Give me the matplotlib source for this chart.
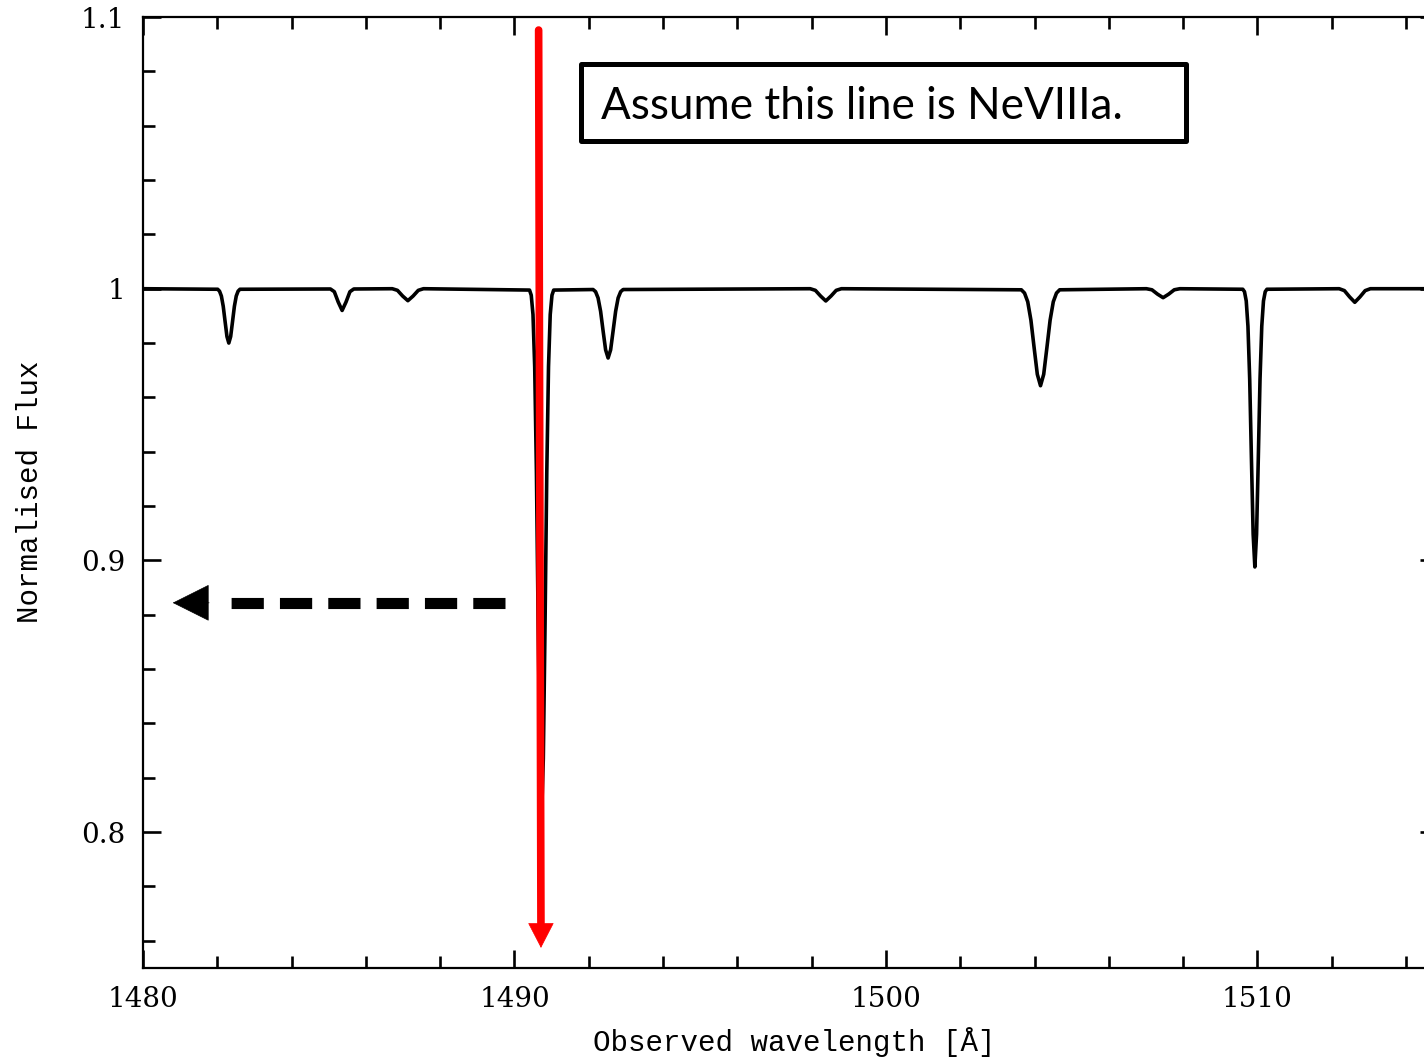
import numpy as np
import matplotlib.pyplot as plt
from matplotlib.patches import Rectangle
from matplotlib.ticker import MultipleLocator, FixedLocator, FixedFormatter

# spectrum: continuum at 1 with absorption lines
wave = [1480.0,
        1482.01, 1482.06, 1482.11, 1482.16, 1482.21, 1482.26, 1482.31,
        1482.36, 1482.41, 1482.46, 1482.51, 1482.56, 1482.61,
        1485.045, 1485.15, 1485.255, 1485.36, 1485.465, 1485.57, 1485.675,
        1486.71, 1486.85, 1486.99, 1487.13, 1487.27, 1487.41, 1487.55,
        1490.405, 1490.451, 1490.498, 1490.544, 1490.591, 1490.637, 1490.684, 1490.73,
        1490.776, 1490.823, 1490.869, 1490.916, 1490.962, 1491.009, 1491.055,
        1492.115, 1492.183, 1492.25, 1492.318, 1492.385, 1492.453, 1492.52,
        1492.588, 1492.655, 1492.723, 1492.79, 1492.858, 1492.925,
        1497.96, 1498.10, 1498.24, 1498.38, 1498.52, 1498.66, 1498.80,
        1503.644, 1503.73, 1503.816, 1503.902, 1503.988, 1504.074, 1504.16,
        1504.246, 1504.332, 1504.418, 1504.504, 1504.59, 1504.676,
        1507.01, 1507.16, 1507.31, 1507.46, 1507.61, 1507.76, 1507.91,
        1509.605, 1509.651, 1509.698, 1509.744, 1509.791, 1509.837, 1509.884, 1509.93,
        1509.976, 1510.023, 1510.069, 1510.116, 1510.162, 1510.209, 1510.255,
        1512.20, 1512.34, 1512.48, 1512.62, 1512.76, 1512.90, 1513.04,
        1515.0]
flux = [1.0,
        0.9998, 0.9991, 0.9973, 0.9935, 0.9879, 0.9824, 0.980,
        0.9824, 0.9879, 0.9935, 0.9973, 0.9991, 0.9998,
        0.9999, 0.9989, 0.9951, 0.992, 0.9951, 0.9989, 0.9999,
        1.0, 0.9994, 0.9973, 0.9956, 0.9973, 0.9994, 1.0,
        0.9995, 0.9976, 0.9905, 0.9713, 0.932, 0.877, 0.827, 0.806,
        0.827, 0.877, 0.932, 0.9713, 0.9905, 0.9976, 0.9995,
        0.9997, 0.9989, 0.9966, 0.9917, 0.9845, 0.9775, 0.9745,
        0.9775, 0.9845, 0.9917, 0.9966, 0.9989, 0.9997,
        1.0, 0.9994, 0.9973, 0.9955, 0.9973, 0.9994, 1.0,
        0.9996, 0.9984, 0.9952, 0.9884, 0.9783, 0.9685, 0.9643,
        0.9685, 0.9783, 0.9884, 0.9952, 0.9984, 0.9996,
        1.0, 0.9996, 0.998, 0.9967, 0.998, 0.9996, 1.0,
        0.9998, 0.9989, 0.9955, 0.9862, 0.9667, 0.9378, 0.9097, 0.8976,
        0.9097, 0.9378, 0.9667, 0.9862, 0.9955, 0.9989, 0.9998,
        1.0, 0.9993, 0.997, 0.995, 0.997, 0.9993, 1.0,
        1.0]

x_ticks = [1480, 1490, 1500, 1510]
x_labels = ['1480', '1490', '1500', '1510']
y_ticks = [0.8, 0.9, 1.0, 1.1]
y_labels = ['0.8', '0.9', '1', '1.1']
note = 'Assume this line is NeVIIIa.'
line_a = 1490.70   # marked line
flux_arrow = 0.8844

W, H = 1424, 1060
fig = plt.figure(figsize=(W / 100, H / 100), dpi=100)
ax = fig.add_axes([143 / W, 1 - 968 / H, (1438 - 143) / W, (968 - 17) / H])

ax.plot(wave, flux, color='black', lw=2.6, solid_joinstyle='round')
ax.set_xlim(1480, 1514.86)
ax.set_ylim(0.75, 1.1)

ax.xaxis.set_major_locator(FixedLocator(x_ticks))
ax.xaxis.set_major_formatter(FixedFormatter(x_labels))
ax.xaxis.set_minor_locator(MultipleLocator(2))
ax.yaxis.set_major_locator(FixedLocator(y_ticks))
ax.yaxis.set_major_formatter(FixedFormatter(y_labels))
ax.yaxis.set_minor_locator(MultipleLocator(0.02))
ax.tick_params(which='both', direction='in', top=True, right=True, width=1.9, color='black')
ax.tick_params(which='major', length=13, pad=13, labelsize=20)
ax.tick_params(which='minor', length=8.3)
for lab in ax.get_xticklabels() + ax.get_yticklabels():
    lab.set_family('DejaVu Serif')
for sp in ax.spines.values():
    sp.set_linewidth(1.6)

fig.text(794 / W, 1 - 1042 / H, 'Observed wavelength [Å]', family='Liberation Mono',
         fontsize=21, ha='center', va='center')
fig.text(30 / W, 1 - 492 / H, 'Normalised Flux', family='Liberation Mono',
         fontsize=21, ha='center', va='center', rotation=90)

# red arrow marking the line: shaft, then a crisp head
ax.annotate('', xy=(line_a + 0.012, 0.7665), xytext=(line_a - 0.05, 1.0952),
            arrowprops=dict(arrowstyle='-', color='#ff0000', lw=5.5,
                            shrinkA=0, shrinkB=0))
ax.annotate('', xy=(line_a + 0.013, 0.7574), xytext=(line_a + 0.012, 0.7665),
            arrowprops=dict(arrowstyle='-|>,head_length=17,head_width=8.8',
                            mutation_scale=1, color='#ff0000', lw=0.5,
                            shrinkA=0, shrinkB=0))

# dashed black arrow pointing left
ax.plot([1489.745, 1482.234], [flux_arrow, flux_arrow], color='black', lw=8,
        dashes=(2.9, 1.45), solid_capstyle='butt', dash_capstyle='butt')
ax.annotate('', xy=(1480.80, flux_arrow), xytext=(1481.78, flux_arrow),
            arrowprops=dict(arrowstyle='-|>,head_length=25,head_width=12.5',
                            mutation_scale=1, color='black', lw=0.5,
                            shrinkA=0, shrinkB=0))

# text box
fig.patches.append(Rectangle((581 / W, 1 - 141 / H), 605 / W, 77 / H, transform=fig.transFigure,
                             fill=False, edgecolor='black', lw=3.6, joinstyle='round'))
fig.text(601 / W, 1 - 119 / H, note, family='Lato', fontsize=31.7, ha='left', va='baseline')

fig.savefig('out.png', dpi=100)
